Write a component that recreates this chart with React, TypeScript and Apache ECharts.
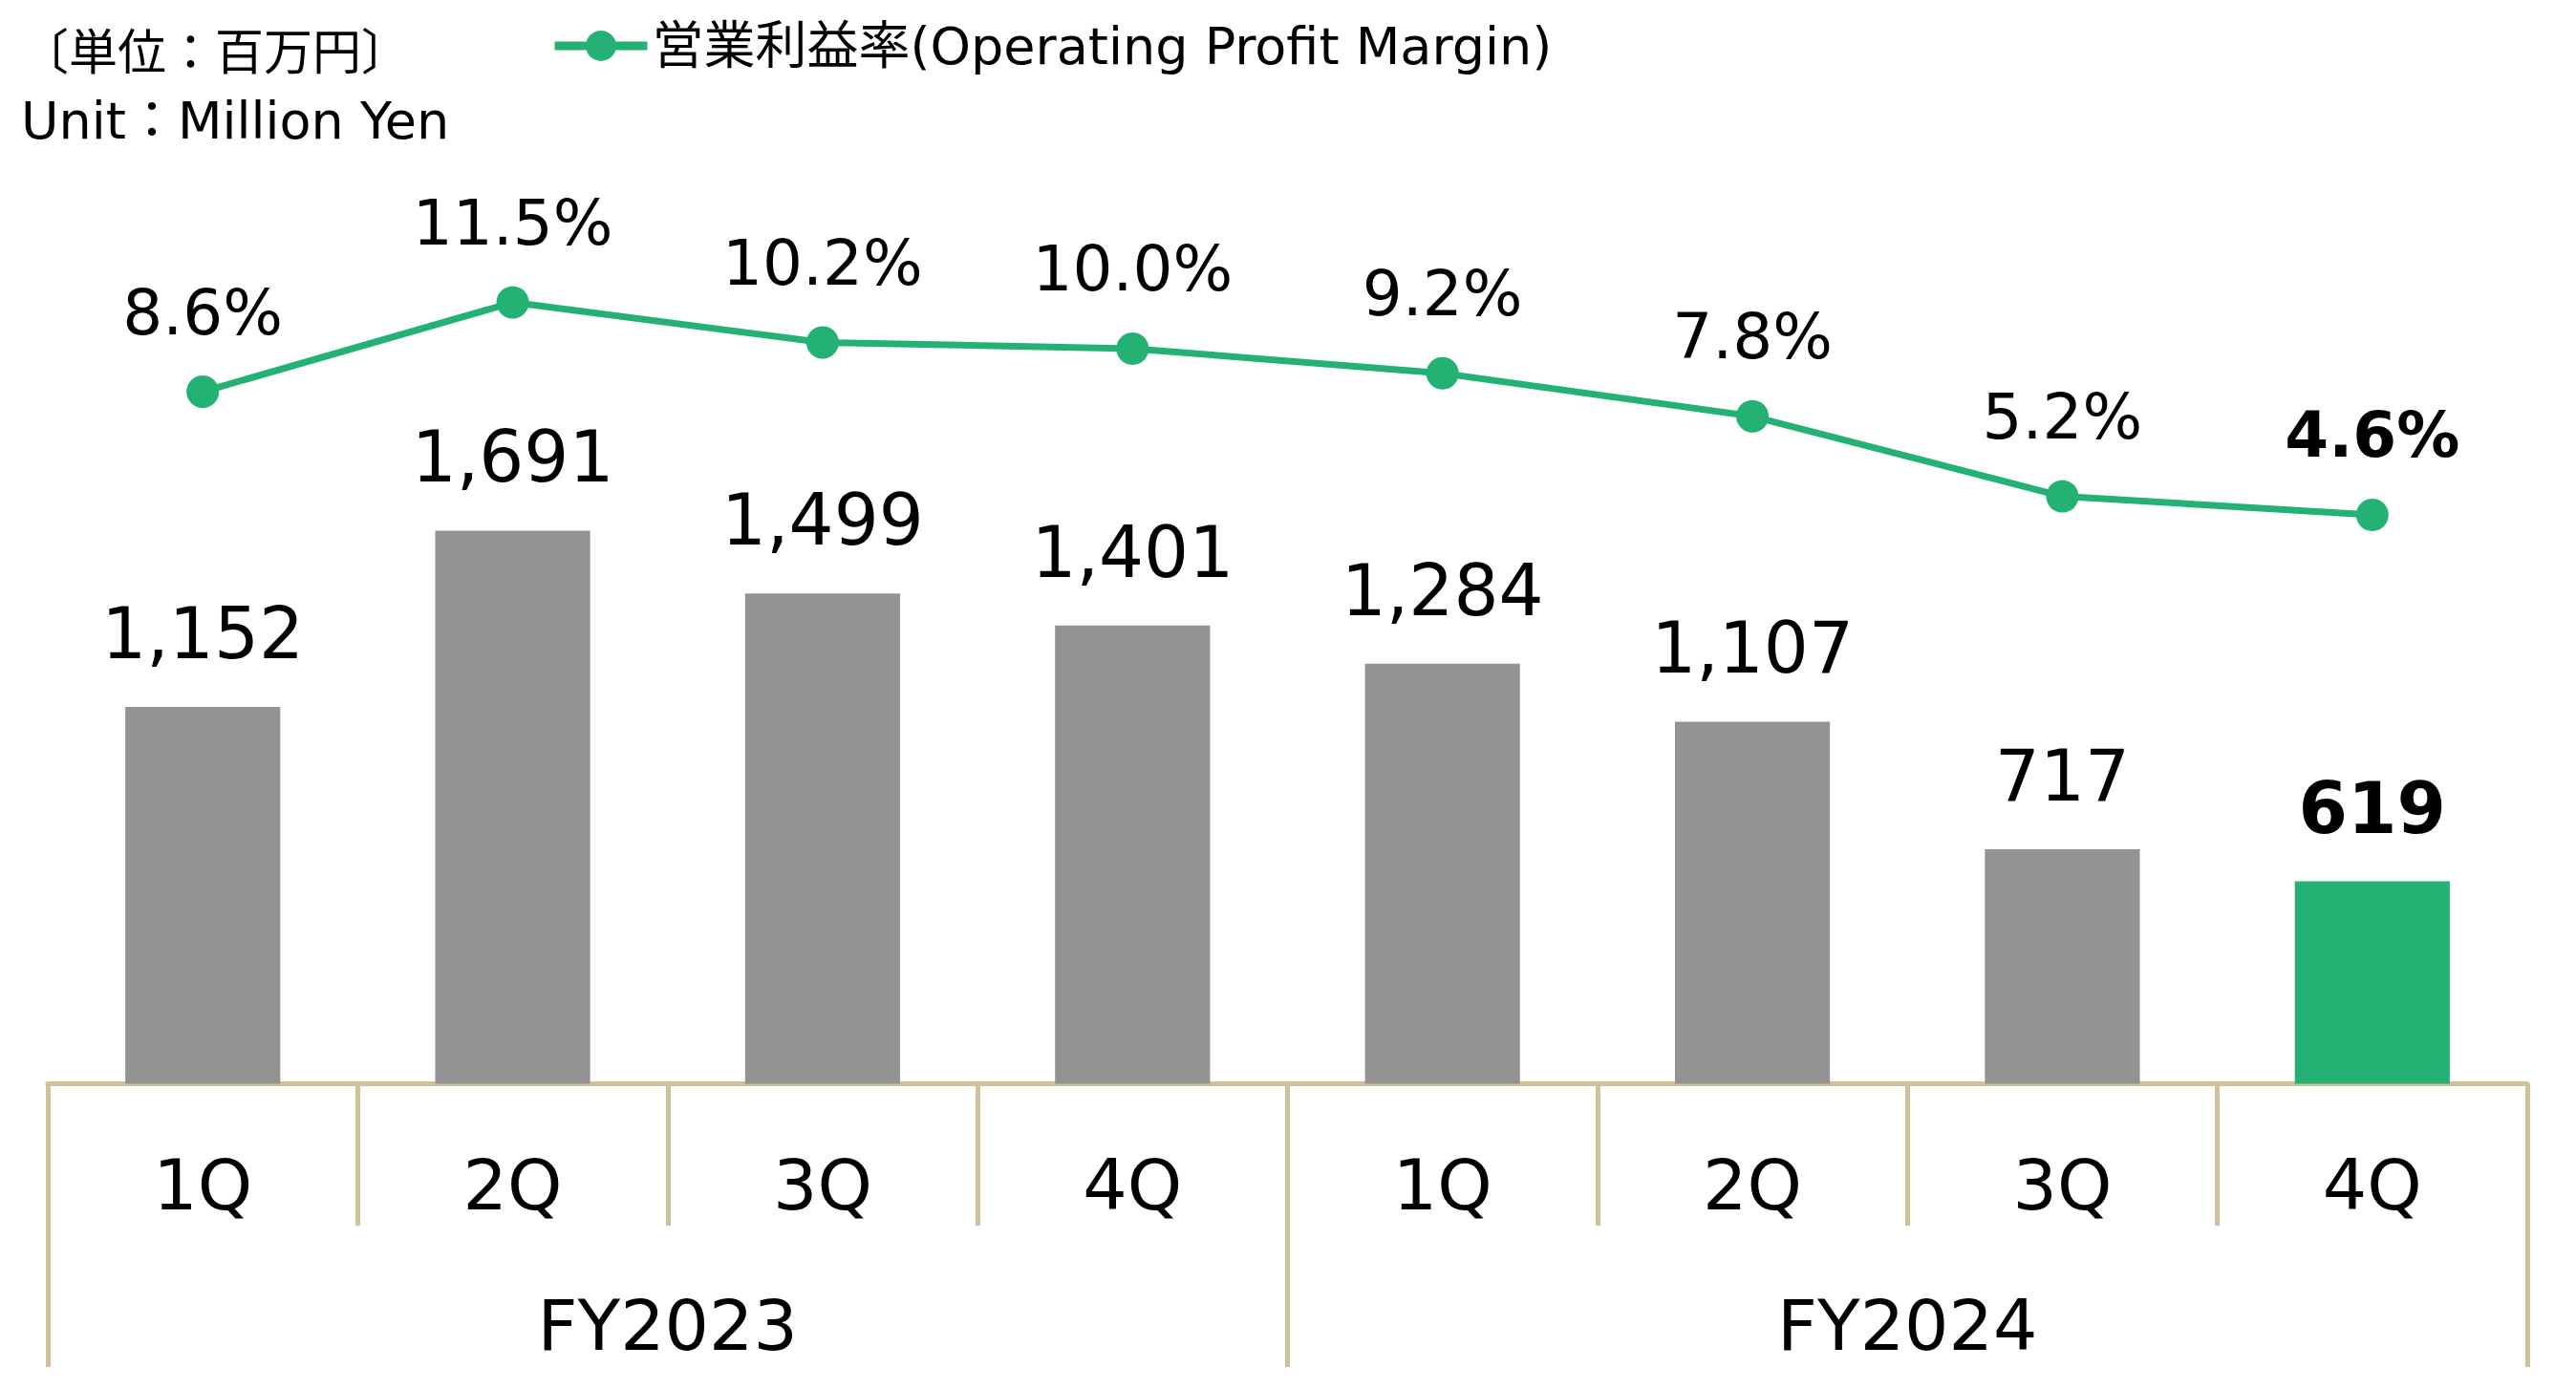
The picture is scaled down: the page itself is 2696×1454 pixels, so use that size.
import React, { useEffect, useRef } from "react";
import * as echarts from "echarts";

const quarters = ["1Q", "2Q", "3Q", "4Q", "1Q", "2Q", "3Q", "4Q"];
const fiscalYears = ["FY2023", "FY2024"];
const operatingProfit = [1152, 1691, 1499, 1401, 1284, 1107, 717, 619];
const profitMargin = [8.6, 11.5, 10.2, 10.0, 9.2, 7.8, 5.2, 4.6];
const marginName = "営業利益率(Operating Profit Margin)";
const unitJa = "〔単位：百万円〕";
const unitEn = "Unit：Million Yen";

const FONT = "'DejaVu Sans', 'Noto Sans CJK JP', sans-serif";
const GREEN = "#23B174";
const GRAY = "#939393";
const TAN = "#CFC19A";

export default function App() {
  const ref = useRef<HTMLDivElement>(null);
  useEffect(() => {
    if (!ref.current) return;
    const chart = echarts.init(ref.current, null, { renderer: "svg" });
    const last = operatingProfit.length - 1;
    const barData = operatingProfit.map((v, i) =>
      i === last
        ? { value: v, itemStyle: { color: GREEN }, label: { fontWeight: "bold" } }
        : { value: v }
    );
    const lineData = profitMargin.map((v, i) =>
      i === last ? { value: v, label: { fontWeight: "bold" } } : { value: v }
    );
    const gridPos = { left: 50, right: 51, top: 134.5, bottom: 319.5, containLabel: false };
    chart.setOption({
      animation: false,
      backgroundColor: "#ffffff",
      textStyle: { fontFamily: FONT },
      grid: [gridPos, { ...gridPos }],
      legend: {
        data: [marginName],
        left: 571,
        top: 16,
        itemWidth: 97,
        itemHeight: 40,
        itemGap: 8,
        textStyle: { fontSize: 54, color: "#000", fontFamily: FONT },
        lineStyle: { width: 9 },
      },
      graphic: [
        {
          type: "text",
          left: 21,
          top: 30,
          style: { text: unitJa, fontSize: 51, fill: "#000", fontFamily: FONT },
        },
        {
          type: "text",
          left: 22,
          top: 99,
          style: { text: unitEn, fontSize: 54, fill: "#000", fontFamily: FONT },
        },
      ],
      xAxis: [
        {
          type: "category",
          gridIndex: 0,
          data: quarters,
          position: "bottom",
          boundaryGap: true,
          axisLine: { show: true, lineStyle: { color: TAN, width: 5 } },
          axisTick: { show: true, length: 148.5, lineStyle: { color: TAN, width: 5 } },
          axisLabel: { fontSize: 73, color: "#000", margin: 69, fontFamily: FONT },
          splitLine: { show: false },
        },
        {
          type: "category",
          gridIndex: 1,
          data: fiscalYears,
          position: "bottom",
          boundaryGap: true,
          axisLine: { show: false },
          axisTick: { show: true, length: 296.5, lineStyle: { color: TAN, width: 5 } },
          axisLabel: { fontSize: 73, color: "#000", margin: 216, fontFamily: FONT },
          splitLine: { show: false },
        },
      ],
      yAxis: [
        { type: "value", gridIndex: 0, min: 0, max: 2920, show: false, splitLine: { show: false } },
        { type: "value", gridIndex: 0, min: -13.88, max: 17.15, show: false, splitLine: { show: false } },
        { type: "value", gridIndex: 1, min: 0, max: 1, show: false, splitLine: { show: false } },
      ],
      series: [
        {
          type: "bar",
          name: "営業利益",
          xAxisIndex: 0,
          yAxisIndex: 0,
          data: barData,
          barWidth: "50%",
          itemStyle: { color: GRAY },
          label: {
            show: true,
            position: "top",
            distance: 40,
            fontSize: 74,
            color: "#000",
            fontFamily: FONT,
            formatter: (p: any) => Number(p.value).toLocaleString("en-US"),
          },
        },
        {
          type: "line",
          name: marginName,
          xAxisIndex: 0,
          yAxisIndex: 1,
          data: lineData,
          symbol: "circle",
          symbolSize: 34,
          lineStyle: { color: GREEN, width: 7 },
          itemStyle: { color: GREEN },
          label: {
            show: true,
            position: "top",
            distance: 33,
            fontSize: 66,
            color: "#000",
            fontFamily: FONT,
            formatter: (p: any) => Number(p.value).toFixed(1) + "%",
          },
        },
      ],
    });
    return () => chart.dispose();
  }, []);
  return (
    <div
      ref={ref}
      style={{ position: "absolute", left: 0, top: 0, width: 2696, height: 1454 }}
    />
  );
}
